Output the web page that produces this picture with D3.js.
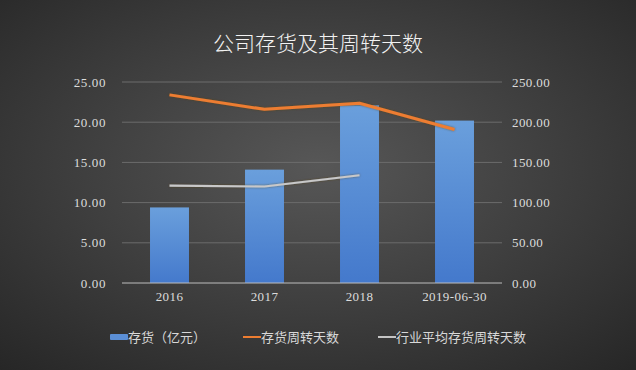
<!DOCTYPE html>
<html><head><meta charset="utf-8">
<script src="https://cdn.jsdelivr.net/npm/d3@7"></script>
<style>html,body{margin:0;padding:0;background:#3a3a3a;}svg{display:block;}</style>
</head><body>
<svg id="chart" width="636" height="370"></svg>
<script>
const categories = ["2016", "2017", "2018", "2019-06-30"];
const inventory = [9.4, 14.1, 22.1, 20.2];
const turnoverDays = [234, 216, 223.5, 191];
const industryDays = [121, 120, 134];
const leftTicks = [0, 5, 10, 15, 20, 25];
const rightTicks = [0, 50, 100, 150, 200, 250];
const title = "公司存货及其周转天数";
const legendLabels = ["存货（亿元）", "存货周转天数", "行业平均存货周转天数"];

const W = 636, H = 370;
const svg = d3.select("#chart");
const defs = svg.append("defs");
const bg = defs.append("radialGradient").attr("id","bg").attr("cx","50%").attr("cy","45%").attr("r","75%");
bg.append("stop").attr("offset","0%").attr("stop-color","#575757");
bg.append("stop").attr("offset","100%").attr("stop-color","#262626");
const bar = defs.append("linearGradient").attr("id","bar").attr("x1",0).attr("y1",0).attr("x2",0).attr("y2",1);
bar.append("stop").attr("offset","0%").attr("stop-color","#6a9fdc");
bar.append("stop").attr("offset","100%").attr("stop-color","#4479cc");
const glow = defs.append("filter").attr("id","glow").attr("x","-10%").attr("y","-50%").attr("width","120%").attr("height","200%");
glow.append("feGaussianBlur").attr("stdDeviation",1.2).attr("in","SourceGraphic").attr("result","b");
glow.append("feColorMatrix").attr("in","b").attr("type","matrix")
  .attr("values","0 0 0 0 0.1  0 0 0 0 0.05  0 0 0 0 0  0 0 0 0.6 0").attr("result","s");
const fm = glow.append("feMerge");
fm.append("feMergeNode").attr("in","s");
fm.append("feMergeNode").attr("in","SourceGraphic");

svg.append("rect").attr("width",W).attr("height",H).attr("fill","url(#bg)");

const pLeft = 122, pRight = 502, pTop = 82, pBottom = 283;
const x = d3.scaleBand().domain(categories).range([pLeft, pRight]).paddingInner(0.59).paddingOuter(0.295);
const yL = d3.scaleLinear().domain([0, 25]).range([pBottom, pTop]);
const yR = d3.scaleLinear().domain([0, 250]).range([pBottom, pTop]);

// gridlines
svg.append("g").selectAll("line").data(leftTicks.filter(d=>d>0)).join("line")
  .attr("x1", pLeft).attr("x2", pRight).attr("y1", d=>yL(d)).attr("y2", d=>yL(d))
  .attr("stroke","#6c6c6c").attr("stroke-width",1);

// bars
svg.append("g").selectAll("rect").data(inventory).join("rect")
  .attr("x",(d,i)=>x(categories[i])).attr("width",x.bandwidth())
  .attr("y",d=>yL(d)).attr("height",d=>yL(0)-yL(d)).attr("fill","url(#bar)");

// baseline
svg.append("line").attr("x1",pLeft).attr("x2",pRight).attr("y1",pBottom).attr("y2",pBottom)
  .attr("stroke","#bdbdbd").attr("stroke-width",1);

const cx = (i)=>x(categories[i]) + x.bandwidth()/2;
const line = d3.line().x((d,i)=>cx(i)).y(d=>yR(d));
svg.append("path").datum(turnoverDays).attr("d",line).attr("fill","none")
  .attr("stroke","#ed7d31").attr("stroke-width",3).attr("stroke-linejoin","round").attr("filter","url(#glow)");
svg.append("path").datum(industryDays).attr("d",line).attr("fill","none")
  .attr("stroke","#c8c8c8").attr("stroke-width",2.2).attr("stroke-linejoin","round").attr("filter","url(#glow)");

const tickFont = "'Liberation Serif','DejaVu Serif',serif";
// left axis
const axL = svg.append("g").attr("transform",`translate(${pLeft},0)`)
  .call(d3.axisLeft(yL).tickValues(leftTicks).tickFormat(d3.format(".2f")).tickSize(0).tickPadding(16));
axL.select(".domain").remove();
axL.selectAll("text").attr("fill","#dcdcdc").style("font-family",tickFont).style("font-size","13px").style("letter-spacing","0.6px");
// right axis
const axR = svg.append("g").attr("transform",`translate(${pRight},0)`)
  .call(d3.axisRight(yR).tickValues(rightTicks).tickFormat(d3.format(".2f")).tickSize(0).tickPadding(10));
axR.select(".domain").remove();
axR.selectAll("text").attr("fill","#dcdcdc").style("font-family",tickFont).style("font-size","13px").style("letter-spacing","0.4px");
// x axis
const axX = svg.append("g").attr("transform",`translate(0,${pBottom})`)
  .call(d3.axisBottom(x).tickSize(0).tickPadding(9));
axX.select(".domain").remove();
axX.selectAll("text").attr("fill","#dcdcdc").style("font-family",tickFont).style("font-size","13px").style("letter-spacing","0.4px");

// title
svg.append("text").attr("x",318).attr("y",51).attr("text-anchor","middle")
  .attr("fill","#f2f2f2").style("font-family","'Noto Sans CJK SC',sans-serif").style("font-size","21px").style("font-weight","300")
  .text(title);

// legend
const lg = svg.append("g").style("font-family","'Noto Sans CJK SC',sans-serif").style("font-size","13px").attr("fill","#d8d8d8");
const ly = 337;
lg.append("rect").attr("x",110).attr("y",ly-3).attr("width",18).attr("height",6).attr("rx",1).attr("fill","#5b8fd6");
lg.append("text").attr("x",128).attr("y",ly+4.5).text(legendLabels[0]);
lg.append("line").attr("x1",243).attr("x2",261).attr("y1",ly).attr("y2",ly).attr("stroke","#ed7d31").attr("stroke-width",2);
lg.append("text").attr("x",261).attr("y",ly+4.5).text(legendLabels[1]);
lg.append("line").attr("x1",378).attr("x2",396).attr("y1",ly).attr("y2",ly).attr("stroke","#c4c4c4").attr("stroke-width",2);
lg.append("text").attr("x",396).attr("y",ly+4.5).text(legendLabels[2]);
</script>
</body></html>
